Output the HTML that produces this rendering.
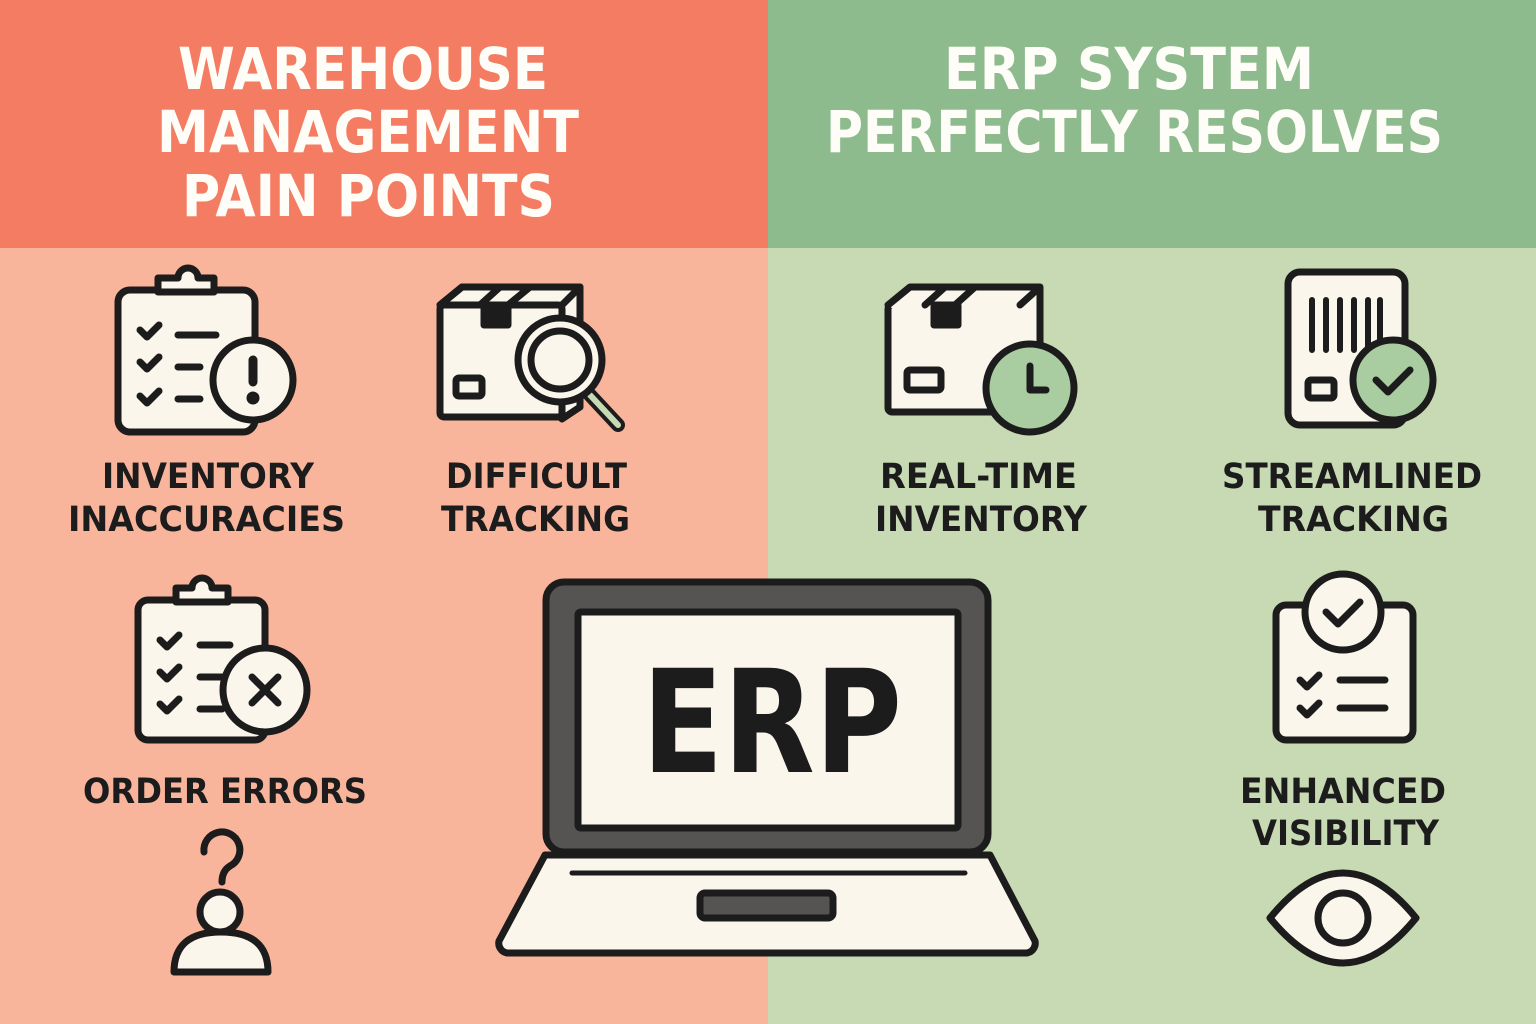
<!DOCTYPE html>
<html><head><meta charset="utf-8"><style>
html,body{margin:0;padding:0;width:1536px;height:1024px;overflow:hidden}
svg{display:block}
text{font-family:"DejaVu Sans","Liberation Sans",sans-serif;font-weight:bold}
</style></head><body>
<svg width="1536" height="1024" viewBox="0 0 1536 1024" xmlns="http://www.w3.org/2000/svg">
<rect x="0" y="0" width="768" height="1024" fill="#F9B49C"/>
<rect x="768" y="0" width="768" height="1024" fill="#C8DAB4"/>
<rect x="0" y="0" width="768" height="248" fill="#F47C63"/>
<rect x="768" y="0" width="768" height="248" fill="#8DBB8E"/>
<g fill="#FFFDF7" font-size="58" lengthAdjust="spacingAndGlyphs">
<text x="178" y="89" textLength="370" lengthAdjust="spacingAndGlyphs">WAREHOUSE</text>
<text x="157" y="152" textLength="422" lengthAdjust="spacingAndGlyphs">MANAGEMENT</text>
<text x="182" y="216" textLength="373" lengthAdjust="spacingAndGlyphs">PAIN POINTS</text>
<text x="944" y="89" textLength="370" lengthAdjust="spacingAndGlyphs">ERP SYSTEM</text>
<text x="826" y="152" textLength="617" lengthAdjust="spacingAndGlyphs">PERFECTLY RESOLVES</text>
</g>
<g fill="#1c1c1c" font-size="35">
<text x="102" y="488" textLength="212" lengthAdjust="spacingAndGlyphs">INVENTORY</text>
<text x="68" y="531" textLength="277" lengthAdjust="spacingAndGlyphs">INACCURACIES</text>
<text x="446" y="488" textLength="181" lengthAdjust="spacingAndGlyphs">DIFFICULT</text>
<text x="441" y="531" textLength="189" lengthAdjust="spacingAndGlyphs">TRACKING</text>
<text x="880" y="488" textLength="197" lengthAdjust="spacingAndGlyphs">REAL-TIME</text>
<text x="875" y="531" textLength="212" lengthAdjust="spacingAndGlyphs">INVENTORY</text>
<text x="1222" y="488" textLength="260" lengthAdjust="spacingAndGlyphs">STREAMLINED</text>
<text x="1258" y="531" textLength="191" lengthAdjust="spacingAndGlyphs">TRACKING</text>
<text x="83" y="803" textLength="284" lengthAdjust="spacingAndGlyphs">ORDER ERRORS</text>
<text x="1240" y="803" textLength="206" lengthAdjust="spacingAndGlyphs">ENHANCED</text>
<text x="1252" y="845" textLength="187" lengthAdjust="spacingAndGlyphs">VISIBILITY</text>
</g>
<g stroke="#1c1c1c" stroke-width="7" stroke-linecap="round" stroke-linejoin="round" fill="#FBF6EC">
<rect x="118" y="290" width="137" height="142" rx="12"/>
<path d="M158 292 v-14 h20 a10 10 0 0 1 20 0 h16 v14 z"/>
<path d="M140 330 l7 7 l12 -12 M140 362 l7 7 l12 -12 M140 396 l7 7 l12 -12" fill="none"/>
<path d="M178 335 h38 M178 367 h22 M178 399 h22" fill="none"/>
<circle cx="253" cy="380" r="40"/>
<path d="M253 360 v22" fill="none" stroke-width="9"/><circle cx="253" cy="398" r="3" fill="#1c1c1c"/>
<path d="M440 305 l22 -18 h118 v120 l-18 12 z" />
<rect x="440" y="305" width="122" height="112" rx="4"/>
<path d="M462 287 l-22 18 M562 305 l18 -18 M500 287 l-20 18 M530 287 l-22 18" fill="none"/>
<rect x="484" y="305" width="24" height="20" fill="#1c1c1c"/>
<rect x="456" y="378" width="26" height="18" rx="3"/>
<path d="M590 395 l28 30" stroke-width="14" stroke="#1c1c1c"/>
<path d="M590 395 l28 30" stroke-width="6" stroke="#C8DAB4"/>
<circle cx="560" cy="360" r="42"/>
<circle cx="560" cy="360" r="29"/>
<rect x="888" y="305" width="132" height="107" rx="4"/>
<path d="M888 305 l22 -18 h130 v110 l-20 15 M1020 305 l20 -18 M945 287 l-20 18 M975 287 l-20 18" />
<rect x="934" y="305" width="24" height="20" fill="#1c1c1c"/>
<rect x="907" y="370" width="34" height="20" rx="3"/>
<circle cx="1030" cy="388" r="44" fill="#A9CCA1"/>
<path d="M1030 366 v24 h16" fill="none"/>
<rect x="1288" y="272" width="117" height="153" rx="12"/>
<path d="M1312 300 v50 M1326 300 v50 M1340 300 v50 M1354 300 v50 M1368 300 v50 M1380 300 v40" fill="none" stroke-width="6"/>
<rect x="1308" y="380" width="26" height="18" rx="3"/>
<circle cx="1393" cy="380" r="40" fill="#A9CCA1"/>
<path d="M1376 380 l12 12 l22 -22" fill="none"/>
<rect x="138" y="600" width="127" height="140" rx="10"/>
<path d="M176 602 v-14 h16 a10 10 0 0 1 20 0 h16 v14 z"/>
<path d="M160 640 l7 7 l12 -12 M160 672 l7 7 l12 -12 M160 704 l7 7 l12 -12" fill="none"/>
<path d="M200 645 h30 M200 677 h22 M200 709 h22" fill="none"/>
<circle cx="265" cy="690" r="42"/>
<path d="M252 677 l26 26 M278 677 l-26 26" fill="none"/>
<path d="M204 852 a18 18 0 1 1 26 14 q-8 5 -8 16" fill="none"/>
<circle cx="222" cy="896" r="3" fill="#1c1c1c"/>
<path d="M174 972 q0 -40 47 -40 q47 0 47 40 z"/>
<circle cx="220" cy="912" r="20"/>
<rect x="546" y="582" width="442" height="270" rx="18" fill="#555452"/>
<rect x="578" y="612" width="380" height="216" rx="3"/>
<path d="M545 855 h445 l45 86 a10 10 0 0 1 -8 12 h-520 a10 10 0 0 1 -8 -12 z"/>
<path d="M572 873 h393" fill="none" stroke-width="5"/>
<rect x="700" y="893" width="133" height="25" rx="5" fill="#555452"/>
<rect x="1276" y="605" width="137" height="135" rx="10"/>
<circle cx="1343" cy="612" r="38"/>
<path d="M1326 612 l12 12 l22 -22" fill="none"/>
<path d="M1300 680 l7 7 l12 -12 M1300 708 l7 7 l12 -12" fill="none"/>
<path d="M1340 680 h45 M1340 708 h45" fill="none"/>
<path d="M1270 918 q73 -90 146 0 q-73 90 -146 0 z"/>
<circle cx="1343" cy="918" r="25"/>
</g>
<text x="642" y="772" font-size="143" textLength="260" lengthAdjust="spacingAndGlyphs" fill="#1c1c1c">ERP</text>
</svg>
</body></html>
